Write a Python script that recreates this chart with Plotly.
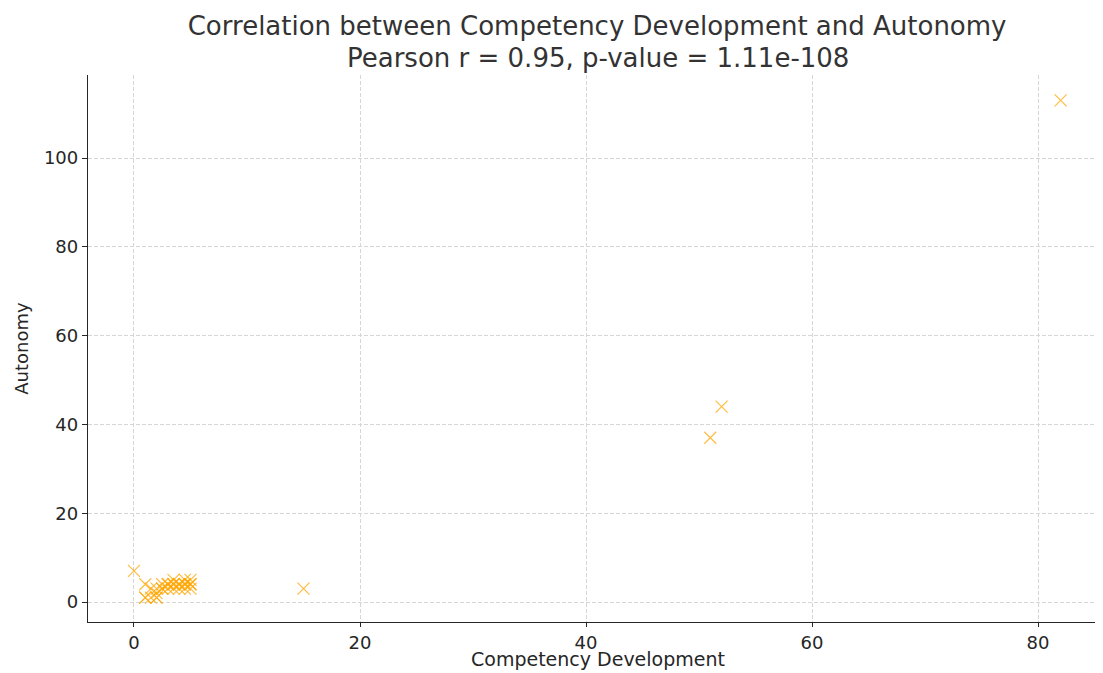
import plotly.graph_objects as go

competency = [0, 15, 51, 52, 82,
              1, 1, 1.5, 2, 2, 2, 2.5, 2.5, 3, 3, 3.5, 3.5, 3.5, 4, 4, 4.5, 4.5, 4.5, 5, 5, 5,
              1.5, 2, 3, 4, 1, 2.5, 3.5, 4.5, 5]
autonomy = [7, 3, 37, 44, 113,
            1, 4, 1, 1, 2, 3, 3, 4, 3, 4, 3, 4, 5, 4, 3, 4, 5, 3, 3, 4, 5,
            3, 1, 4, 4, 1, 3, 4, 4, 4]

title_line1 = "Correlation between Competency Development and Autonomy"
title_line2 = "Pearson r = 0.95, p-value = 1.11e-108"
x_title = "Competency Development"
y_title = "Autonomy"

fig = go.Figure(go.Scatter(
    x=competency, y=autonomy, mode="markers",
    marker=dict(symbol="x-thin", size=12, color="rgba(0,0,0,0)",
                line=dict(color="rgba(255,165,0,0.75)", width=1.2)),
    showlegend=False,
))

W, H = 1095, 665
L, T, B = 80, 67, 51
plot_h = H - T - B
plot_bottom = H - B
font_family = "DejaVu Sans"
fig.update_layout(
    width=W, height=H,
    margin=dict(l=L, r=0, t=T, b=B, autoexpand=False),
    paper_bgcolor="white", plot_bgcolor="white",
    font=dict(family=font_family, color="#262626", size=18),
    title=dict(text=title_line1,
               x=0.538, xanchor="center", y=1 - 18 / H, yanchor="middle",
               font=dict(size=26, color="#333333")),
)
fig.add_annotation(
    text=title_line2, xref="paper", yref="paper",
    x=(589.5 - L) / (W - L), y=1 + (T - 50) / plot_h,
    xanchor="center", yanchor="middle", showarrow=False,
    font=dict(size=26, color="#333333"),
)
fig.add_annotation(
    text=x_title, xref="paper", yref="paper",
    x=(590 - L) / (W - L), y=-(651 - plot_bottom) / plot_h,
    xanchor="center", yanchor="middle", showarrow=False,
    font=dict(size=19, color="#262626"),
)
fig.update_xaxes(
    range=[-4.07, 85.75], tickvals=[0, 20, 40, 60, 80], automargin=False,
    showgrid=True, gridcolor="#d6d6d6", griddash="4px,2px", gridwidth=1,
    zeroline=False, showline=True, linecolor="#262626", linewidth=1.3,
    ticks="outside", ticklen=4, tickcolor="#262626",
)
fig.update_yaxes(
    range=[-4.5, 118.7], tickvals=[0, 20, 40, 60, 80, 100], automargin=False,
    showgrid=True, gridcolor="#d6d6d6", griddash="4px,2px", gridwidth=1,
    zeroline=False, showline=True, linecolor="#262626", linewidth=1.3,
    ticks="outside", ticklen=5, tickcolor="#262626",
    title=dict(text=y_title, standoff=10, font=dict(size=18)),
)
fig.write_html("out.html")
